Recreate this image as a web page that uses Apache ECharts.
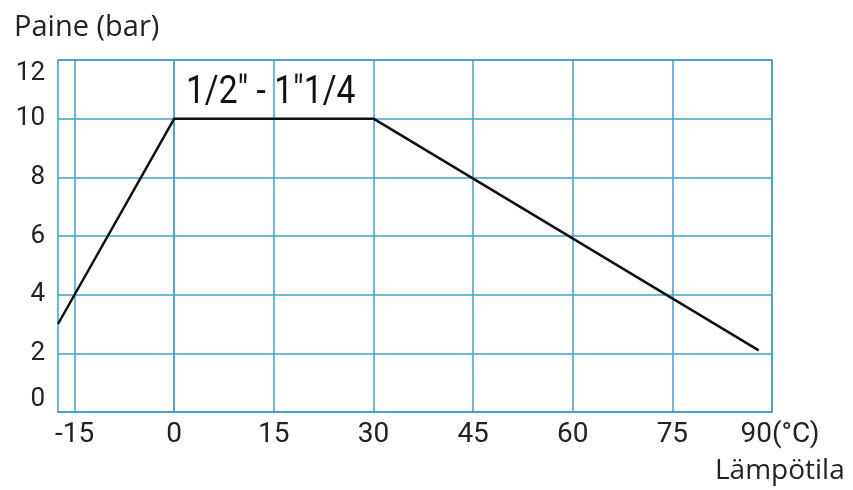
<!DOCTYPE html>
<html><head><meta charset="utf-8">
<script src="https://cdn.jsdelivr.net/npm/echarts@6/dist/echarts.min.js"></script>
<style>html,body{margin:0;padding:0;background:#fff}#c{width:853px;height:490px}</style>
</head><body><div id="c"></div>
<script>
const temps = [-17.5, 0, 30, 88];
const pressures = [3, 10, 10, 2.1];
const xTicks = [-15, 0, 15, 30, 45, 60, 75, 90];
const yTitle = 'Paine (bar)';
const xTitle = 'Lämpötila';
const seriesLabel = '1/2" - 1"1/4';

const chart = echarts.init(document.getElementById('c'));
const blue = '#3f9fd2';
chart.setOption({
  animation: false,
  backgroundColor: '#fff',
  title: [
    {text: yTitle, left: 9, top: 8, textStyle: {fontFamily: 'Open Sans', fontSize: 29, fontWeight: 'normal', color: '#222'}},
    {text: xTitle, left: 710, top: 452, textStyle: {fontFamily: 'Open Sans', fontSize: 28, fontWeight: 'normal', color: '#222'}}
  ],
  grid: {left: 58, right: 81, top: 60, bottom: 78, show: true, borderColor: blue, borderWidth: 1.5, containLabel: false},
  xAxis: {
    type: 'value', min: -17.5, max: 90,
    axisLine: {show: true, lineStyle: {color: blue, width: 1.5}},
    axisTick: {show: false, customValues: xTicks},
    splitLine: {show: true, lineStyle: {color: blue, width: 1.5}},
    axisLabel: {
      customValues: xTicks, margin: 9, color: '#222', fontFamily: 'Roboto', fontSize: 28,
      formatter: v => v === 90 ? '{u|90(°C)}' : String(v),
      rich: {u: {fontFamily: 'Roboto', fontSize: 28, color: '#222', padding: [0, 0, 0, 16]}}
    }
  },
  yAxis: {
    type: 'value', min: 0, max: 12, interval: 2,
    axisLine: {show: true, lineStyle: {color: blue, width: 1.5}},
    axisTick: {show: false},
    splitLine: {show: true, lineStyle: {color: blue, width: 1.5}},
    axisLabel: {margin: 13, color: '#222', fontFamily: 'Roboto', fontSize: 26,
      verticalAlignMinLabel: 'bottom', verticalAlignMaxLabel: 'top'}
  },
  graphic: [{
    type: 'text', left: 186, top: 74, scaleX: 0.86,
    style: {text: seriesLabel, font: '39px Roboto', fill: '#111'}
  }],
  series: [{
    type: 'line', data: temps.map((t, i) => [t, pressures[i]]),
    showSymbol: false, lineStyle: {color: '#111', width: 2.5}, z: 5
  }]
});
</script></body></html>
